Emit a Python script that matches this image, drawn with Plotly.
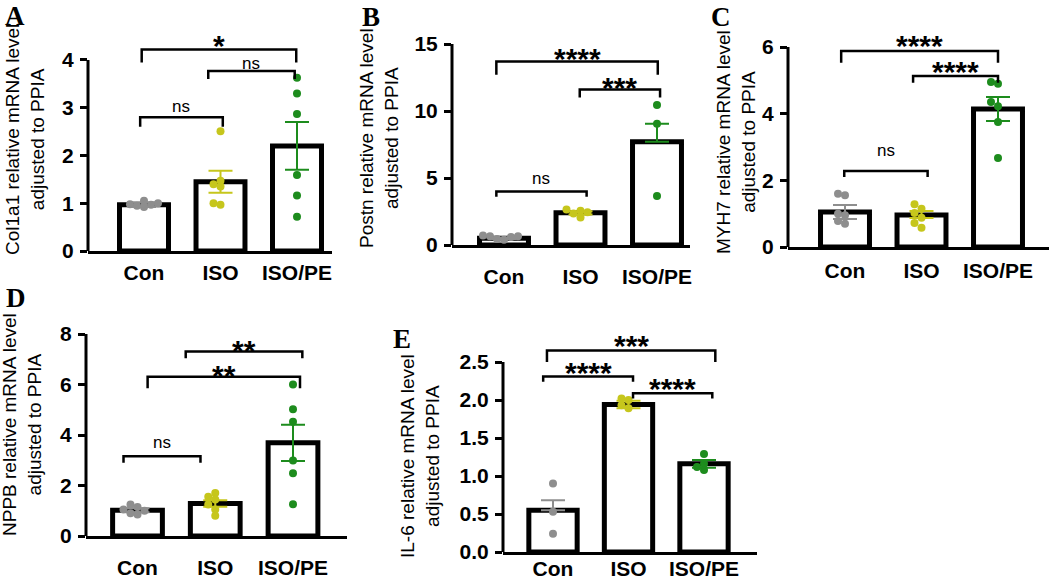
import plotly.graph_objects as go

W, H = 1052, 579

categories = ["Con", "ISO", "ISO/PE"]
group_colors = ["#8e8e8e", "#c6c61c", "#1d8c1d"]

# ---------------- Panel A : Col1a1 ----------------
A_title = "Col1a1 relative mRNA level<br>adjusted to PPIA"
A_mean = [0.97, 1.45, 2.20]
A_err_hi = [0.05, 0.23, 0.50]
A_err_lo = [0.05, 0.23, 0.50]
A_points = [[1.05, 1.00, 0.97, 0.95, 0.92, 0.98],
            [2.51, 1.47, 1.40, 1.35, 1.00, 0.97],
            [3.63, 3.30, 2.87, 1.59, 1.16, 0.72]]
A_ticks = [0, 1, 2, 3, 4]
A_ticktext = ["0", "1", "2", "3", "4"]
# (x_start, x_end, line_y, leg_end_y, label, label_y)
A_brackets = [(-0.05, 1.03, 2.80, 2.60, "ns", 3.02),
              (0.84, 1.97, 3.77, 3.60, "ns", 3.93),
              (-0.03, 1.99, 4.22, 3.95, "*", 4.45)]

# ---------------- Panel B : Postn ----------------
B_title = "Postn relative mRNA level<br>adjusted to PPIA"
B_mean = [0.50, 2.40, 7.70]
B_err_hi = [0.05, 0.12, 1.35]
B_err_lo = [0.05, 0.12, 0.0]
B_points = [[0.70, 0.65, 0.65, 0.60, 0.45, 0.40],
            [2.65, 2.55, 2.45, 2.35, 2.05],
            [10.45, 9.05, 3.65]]
B_ticks = [0, 5, 10, 15]
B_ticktext = ["0", "5", "10", "15"]
B_brackets = [(-0.10, 1.08, 4.00, 3.60, "ns", 4.98),
              (0.99, 2.04, 11.60, 11.00, "***", 12.31),
              (-0.10, 2.01, 13.70, 12.70, "****", 14.43)]

# ---------------- Panel C : MYH7 ----------------
C_title = "MYH7 relative mRNA level<br>adjusted to PPIA"
C_mean = [1.05, 0.96, 4.14]
C_err_hi = [0.21, 0.12, 0.36]
C_err_lo = [0.21, 0.09, 0.36]
C_points = [[1.60, 1.55, 1.00, 0.95, 0.78, 0.70],
            [1.28, 1.15, 1.02, 0.88, 0.72, 0.58],
            [4.95, 4.90, 4.35, 4.22, 3.75, 2.67]]
C_ticks = [0, 2, 4, 6]
C_ticktext = ["0", "2", "4", "6"]
C_brackets = [(-0.01, 1.08, 2.28, 2.10, "ns", 2.91),
              (0.89, 2.00, 5.13, 4.93, "****", 5.47),
              (-0.05, 2.00, 5.88, 5.53, "****", 6.24)]

# ---------------- Panel D : NPPB ----------------
D_title = "NPPB relative mRNA level<br>adjusted to PPIA"
D_mean = [1.02, 1.29, 3.69]
D_err_hi = [0.08, 0.13, 0.72]
D_err_lo = [0.08, 0.13, 0.72]
D_points = [[1.25, 1.15, 1.05, 1.00, 0.90, 0.85],
            [1.70, 1.55, 1.45, 1.25, 1.05, 0.80],
            [6.00, 5.02, 4.52, 2.99, 2.49, 1.26]]
D_ticks = [0, 2, 4, 6, 8]
D_ticktext = ["0", "2", "4", "6", "8"]
D_brackets = [(-0.18, 0.81, 3.16, 2.90, "ns", 3.72),
              (0.62, 2.12, 7.31, 7.04, "**", 7.64),
              (0.13, 2.09, 6.31, 5.85, "**", 6.64)]

# ---------------- Panel E : IL-6 ----------------
E_title = "IL-6 relative mRNA level<br>adjusted to PPIA"
E_mean = [0.55, 1.94, 1.16]
E_err_hi = [0.13, 0.05, 0.05]
E_err_lo = [0.0, 0.05, 0.05]
E_points = [[0.90, 0.53, 0.24],
            [2.02, 2.00, 1.93, 1.89],
            [1.29, 1.16, 1.12, 1.08]]
E_ticks = [0, 0.5, 1.0, 1.5, 2.0, 2.5]
E_ticktext = ["0.0", "0.5", "1.0", "1.5", "2.0", "2.5"]
E_brackets = [(-0.13, 1.06, 2.31, 2.24, "****", 2.46),
              (1.06, 2.11, 2.09, 2.02, "****", 2.24),
              (-0.08, 2.15, 2.65, 2.50, "***", 2.81)]

panel_letters = ["A", "B", "C", "D", "E"]

# ---------- layout geometry (pixels in the 1052x579 canvas) ----------
# xl, xr: x-axis extent; c0, c2: centres of first/last bar; y0: pixel of value 0; yt: pixel of top tick
geom = [
    dict(xl=88, xr=332, c0=144, c2=297, y0=251, yt=60, title=(25, 140), letter=(15, 16), stand=1),
    dict(xl=452, xr=690, c0=504, c2=657, y0=245, yt=44, title=(379, 138), letter=(371, 17), stand=11),
    dict(xl=788, xr=1049, c0=845, c2=998, y0=247, yt=47, title=(736, 142), letter=(721, 17), stand=3),
    dict(xl=86, xr=347, c0=137.5, c2=293, y0=536, yt=334, title=(22, 425), letter=(16, 298), stand=11),
    dict(xl=503, xr=757, c0=553, c2=704, y0=552, yt=362, title=(420, 456), letter=(402, 339), stand=-4),
]

panels = [
    (A_title, A_mean, A_err_hi, A_err_lo, A_points, A_ticks, A_ticktext, A_brackets),
    (B_title, B_mean, B_err_hi, B_err_lo, B_points, B_ticks, B_ticktext, B_brackets),
    (C_title, C_mean, C_err_hi, C_err_lo, C_points, C_ticks, C_ticktext, C_brackets),
    (D_title, D_mean, D_err_hi, D_err_lo, D_points, D_ticks, D_ticktext, D_brackets),
    (E_title, E_mean, E_err_hi, E_err_lo, E_points, E_ticks, E_ticktext, E_brackets),
]

SANS = "Liberation Sans, Arial, sans-serif"
SERIF = "Liberation Serif, Times New Roman, serif"


def swarm(vals, ppu, ppc, d=7.0):
    order = sorted(range(len(vals)), key=lambda k: vals[k])
    placed = []
    offs = [0.0] * len(vals)
    for k in order:
        yp = vals[k] * ppu
        cand = 0.0
        for m in range(0, 30):
            cand = 0.0 if m == 0 else ((m + 1) // 2) * d * (-1 if m % 2 else 1)
            if all((cand - xp) ** 2 + (yp - yq) ** 2 >= (0.8 * d) ** 2 for xp, yq in placed):
                break
        placed.append((cand, yp))
        offs[k] = cand / ppc
    return offs


fig = go.Figure()
shapes = []
annotations = []

for n, (pan, g) in enumerate(zip(panels, geom), start=1):
    title, mean, ehi, elo, pts, ticks, ticktext, brackets = pan
    xa = "x" if n == 1 else f"x{n}"
    ya = "y" if n == 1 else f"y{n}"
    ppc = (g["c2"] - g["c0"]) / 2.0
    xmin = (g["xl"] - g["c0"]) / ppc
    xmax = (g["xr"] - g["c0"]) / ppc
    ppu = (g["y0"] - g["yt"]) / max(ticks)
    top_val = max(max(ticks), max(b[2] for b in brackets)) + 0.03 * max(ticks)
    top_px = g["y0"] - top_val * ppu

    fig.add_trace(go.Bar(
        x=[0, 1, 2], y=mean, width=0.64, xaxis=xa, yaxis=ya,
        marker=dict(color="white", line=dict(color="black", width=5)),
        showlegend=False, hoverinfo="skip"))

    for i, vals in enumerate(pts):
        offs = swarm(vals, ppu, ppc)
        fig.add_trace(go.Scatter(
            x=[i + o for o in offs], y=vals, mode="markers", xaxis=xa, yaxis=ya,
            marker=dict(color=group_colors[i], size=8, line=dict(width=0)),
            showlegend=False, hoverinfo="skip"))

    for i in range(3):
        fig.add_trace(go.Scatter(
            x=[i], y=[mean[i]], mode="markers", xaxis=xa, yaxis=ya,
            marker=dict(size=1, opacity=0),
            error_y=dict(type="data", symmetric=False, array=[ehi[i]], arrayminus=[elo[i]],
                         color=group_colors[i], thickness=2, width=12),
            showlegend=False, hoverinfo="skip"))

    for (bx0, bx1, by, bleg, lab, ly) in brackets:
        fig.add_trace(go.Scatter(
            x=[bx0, bx0, bx1, bx1], y=[bleg, by, by, bleg], mode="lines",
            xaxis=xa, yaxis=ya, line=dict(color="black", width=2.5),
            showlegend=False, hoverinfo="skip"))
        is_star = "*" in lab
        xc = g["c0"] + (bx0 + bx1) / 2 * ppc
        yc = g["y0"] - ly * ppu
        annotations.append(dict(
            x=xc / W, y=1 - yc / H, xref="paper", yref="paper", text=lab, showarrow=False,
            xanchor="center", yanchor="middle", yshift=-7 if is_star else 0,
            font=dict(family=SANS, size=30 if is_star else 17, color="black",
                      weight="bold" if is_star else "normal")))

    # y-axis line up to top tick
    shapes.append(dict(type="line", xref=f"{xa} domain", yref=ya, x0=0, x1=0,
                       y0=0, y1=max(ticks), line=dict(color="black", width=3), layer="above"))

    xkey = "xaxis" if n == 1 else f"xaxis{n}"
    ykey = "yaxis" if n == 1 else f"yaxis{n}"
    fig.update_layout(**{
        xkey: dict(domain=[g["xl"] / W, g["xr"] / W], range=[xmin, xmax], anchor=ya,
                   tickvals=[0, 1, 2], ticktext=categories, ticks="", automargin=False,
                   showline=True, linecolor="black", linewidth=3, showgrid=False,
                   zeroline=False, ticklabelstandoff=g["stand"],
                   tickfont=dict(family=SANS, size=21, color="black", weight="bold")),
        ykey: dict(domain=[1 - g["y0"] / H, 1 - top_px / H], range=[0, top_val], anchor=xa,
                   tickvals=ticks, ticktext=ticktext, ticks="outside", ticklen=7,
                   tickwidth=3, tickcolor="black", showline=False, showgrid=False,
                   zeroline=False, ticklabelstandoff=2, automargin=False,
                   tickfont=dict(family=SANS, size=21, color="black", weight="bold")),
    })

    annotations.append(dict(
        x=g["title"][0] / W, y=1 - g["title"][1] / H, xref="paper", yref="paper",
        text=title, showarrow=False, textangle=-90, xanchor="center", yanchor="middle",
        font=dict(family=SANS, size=19, color="black")))
    annotations.append(dict(
        x=g["letter"][0] / W, y=1 - g["letter"][1] / H, xref="paper", yref="paper",
        text=panel_letters[n - 1], showarrow=False, xanchor="center", yanchor="middle",
        font=dict(family=SERIF, size=27, color="black", weight="bold")))

fig.update_layout(
    width=W, height=H, margin=dict(l=0, r=0, t=0, b=0, autoexpand=False),
    paper_bgcolor="white", plot_bgcolor="white",
    shapes=shapes, annotations=annotations, bargap=0.3,
)

fig.write_html("out.html", config={"displayModeBar": False},
               post_script="document.body.style.margin='0';document.body.style.overflow='hidden';")
